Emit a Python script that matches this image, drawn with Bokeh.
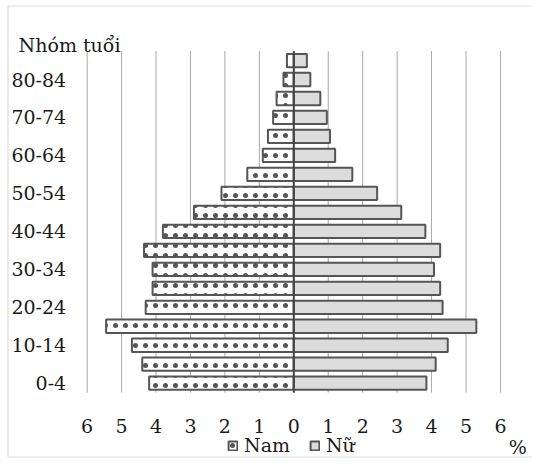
from bokeh.plotting import figure
from bokeh.models import Range1d, FixedTicker, Label, Legend, LegendItem, BoxAnnotation
from bokeh.embed import file_html
from bokeh.resources import INLINE

age_groups = ["0-4", "5-9", "10-14", "15-19", "20-24", "25-29", "30-34", "35-39",
              "40-44", "45-49", "50-54", "55-59", "60-64", "65-69", "70-74",
              "75-79", "80-84", "85+"]
male = [4.2, 4.4, 4.7, 5.45, 4.3, 4.1, 4.1, 4.35, 3.8, 2.9, 2.1, 1.35, 0.9, 0.75, 0.6, 0.5, 0.3, 0.2]
female = [3.85, 4.12, 4.47, 5.3, 4.32, 4.25, 4.07, 4.25, 3.82, 3.12, 2.42, 1.7, 1.2, 1.05, 0.96, 0.77, 0.48, 0.38]
x_ticks = [-6, -5, -4, -3, -2, -1, 0, 1, 2, 3, 4, 5, 6]
legend_labels = ["Nam", "Nữ"]
y_title = "Nhóm tuổi"
unit_label = "%"

FONT = "DejaVu Serif"
FS = "19px"
TXT = "#1a1a1a"

idx = list(range(len(age_groups)))
male_left = [-v for v in male]
y_lo, y_hi = -0.5, len(age_groups) - 0.5

p = figure(width=532, height=458, output_backend="svg", toolbar_location=None,
           x_range=Range1d(-8.516, 6.931), y_range=Range1d(-3.967, 20.163),
           min_border=0)
p.outline_line_color = None
p.background_fill_color = "white"
p.border_fill_color = "white"
p.grid.visible = False

# vertical grid lines limited to the age-group band
grid_x = [t for t in x_ticks if t != 0]
p.segment(x0=grid_x, y0=y_lo, x1=grid_x, y1=y_hi, line_color="#a8a8a8", line_width=1)

r_m = p.hbar(y=idx, left=male_left, right=0, height=0.7, fill_color="white",
             line_color="#555555", line_width=2, hatch_pattern="dot",
             hatch_color="#555555", hatch_scale=10, hatch_weight=0.5)
r_f = p.hbar(y=idx, left=0, right=female, height=0.7, fill_color="#dcdcdc",
             line_color="#555555", line_width=2)

# zero line
p.segment(x0=[0], y0=y_lo, x1=[0], y1=y_hi, line_color="#444444", line_width=2)

# outer frame
p.add_layout(BoxAnnotation(left=7.5, right=600, top=5.5, bottom=456.5,
                           left_units="canvas", right_units="canvas",
                           top_units="canvas", bottom_units="canvas",
                           fill_alpha=0, line_color="#8c8c8c", line_width=1.2))

# axes drawn at fixed positions inside the plot area
p.xaxis.fixed_location = y_lo
p.xaxis.ticker = FixedTicker(ticks=x_ticks)
p.xaxis.major_label_overrides = {t: str(abs(t)) for t in x_ticks}
p.xaxis.axis_line_color = None
p.xaxis.major_tick_line_color = None
p.xaxis.minor_tick_line_color = None
p.xaxis.major_tick_out = 0
p.xaxis.major_label_standoff = 26
p.xaxis.major_label_text_font = FONT
p.xaxis.major_label_text_font_size = FS
p.xaxis.major_label_text_color = TXT

p.yaxis.fixed_location = x_ticks[0]
p.yaxis.ticker = FixedTicker(ticks=idx[::2])
p.yaxis.major_label_overrides = {i: age_groups[i] for i in idx[::2]}
p.yaxis.axis_line_color = None
p.yaxis.major_tick_line_color = None
p.yaxis.minor_tick_line_color = None
p.yaxis.major_tick_out = 0
p.yaxis.major_label_standoff = 21
p.yaxis.major_label_text_font = FONT
p.yaxis.major_label_text_font_size = FS
p.yaxis.major_label_text_color = TXT

p.add_layout(Label(x=-7.99, y=17.84, text=y_title, text_font=FONT, text_font_size=FS,
                   text_color=TXT, text_align="left", text_baseline="alphabetic"))
p.add_layout(Label(x=6.50, y=-3.36, text=unit_label, text_font=FONT, text_font_size=FS,
                   text_color=TXT, text_align="center", text_baseline="alphabetic"))

legend = Legend(items=[LegendItem(label=legend_labels[0], renderers=[r_m]),
                       LegendItem(label=legend_labels[1], renderers=[r_f])],
                location=(227, 2), orientation="horizontal",
                border_line_color=None, background_fill_alpha=0,
                padding=0, margin=0, spacing=19, label_standoff=6,
                glyph_width=11, glyph_height=11, label_height=20,
                label_text_font=FONT, label_text_font_size=FS, label_text_color=TXT)
p.add_layout(legend, "center")

open("out.html", "w").write(file_html(p, INLINE))
